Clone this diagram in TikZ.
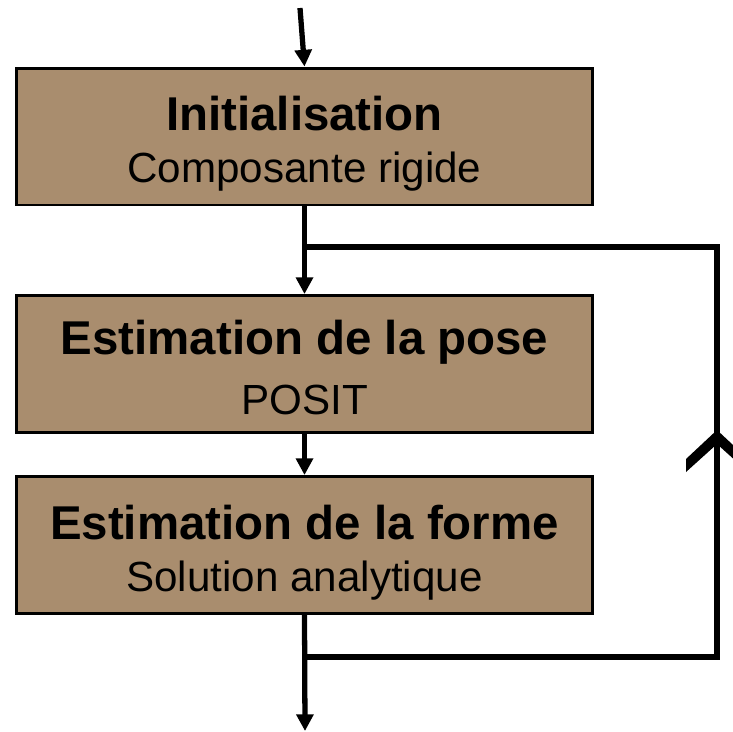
\documentclass[tikz,border=0pt]{standalone}
\usepackage{fontspec}
\setmainfont{Liberation Sans}
\usetikzlibrary{arrows.meta, positioning, calc}
\definecolor{Sable}{RGB}{169,141,110}

\newcommand{\haut}{\rule{0pt}{29pt}}
\newcommand{\bas}{\rule[-6pt]{0pt}{1pt}}

\begin{document}
\begin{tikzpicture}[>={Triangle[width=9.5pt, length=9.5pt]}, x=0.02cm, y=-0.02cm,
    box/.style={draw=black, line width=1.7pt, fill=Sable, minimum width=11.54cm,
        minimum height=2.74cm, align=center, inner sep=0pt},
    flow/.style={line width=3pt}]
        \useasboundingbox (0,0) rectangle (733,731);

        % Blocks
        \node[box] (init) at (304.5,136.5) {\haut\textbf{\fontsize{27}{30}\selectfont Initialisation}\\[11pt]
            \fontsize{24}{30}\selectfont Composante rigide\bas};
        \node[box] (pose) at (304.5,364) {\haut\textbf{\fontsize{27}{30}\selectfont Estimation de la pose}\\[11pt]
            \fontsize{24}{30}\selectfont POSIT\bas};
        \node[box] (forme) at (304.5,545) {\haut\textbf{\fontsize{27}{30}\selectfont Estimation de la forme}\\[11pt]
            \fontsize{24}{30}\selectfont Solution analytique\bas};

        % Entry and exit
        \coordinate (entree) at (300,8);
        \coordinate (sortie) at (305,731);
        \draw[flow, ->] (entree) -- (init.north);
        \draw[flow, ->] (forme.south) -- (sortie);
        \draw[flow, ->] (pose.south) -- (forme.north);

        % Feedback loop
        \coordinate (depart) at (305,657);
        \coordinate (retour) at (305,247);
        \draw[flow, line join=miter] (depart) -- (717,657) -- (717,247) -- (retour);
        \draw[flow, ->] (init.south) -- (pose.north);
        \fill (686,459) -- (717,430) -- (748,459) -- (748,472) -- (717,444) -- (686,472) -- cycle;
\end{tikzpicture}
\end{document}
